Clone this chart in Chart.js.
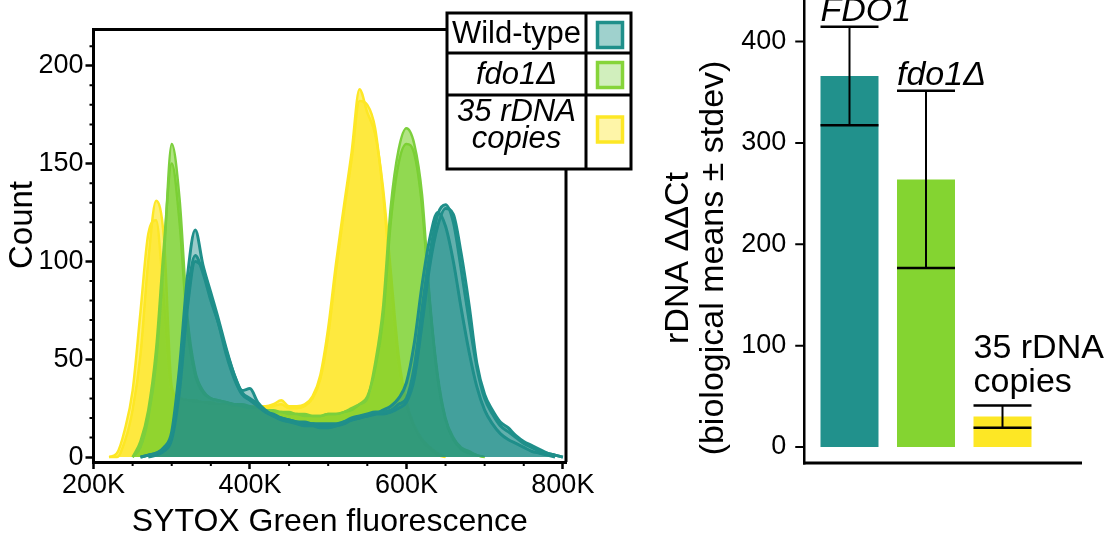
<!DOCTYPE html>
<html><head><meta charset="utf-8">
<script src="https://cdn.jsdelivr.net/npm/chart.js@4.4.1/dist/chart.umd.min.js"></script>
<style>
html,body{margin:0;padding:0;background:#fff;width:1112px;height:537px;overflow:hidden;}
#c1{position:absolute;left:0;top:0;}
#c2{position:absolute;left:640px;top:0;}
</style></head><body>
<canvas id="c1" width="640" height="537"></canvas>
<canvas id="c2" width="472" height="537"></canvas>
<script>
const FONT = '"Liberation Sans", Arial, Helvetica, sans-serif';

// ---------- Left panel: SYTOX histograms ----------
const fluorescenceBins = [220000,230000,240000,250000,260000,270000,280000,290000,300000,310000,
  320000,330000,340000,350000,360000,370000,380000,390000,400000,410000,
  420000,430000,440000,450000,460000,470000,480000,490000,500000,510000,
  520000,530000,540000,550000,560000,570000,580000,590000,600000,610000,
  620000,630000,640000,650000,660000,670000,680000,690000,700000,710000,
  720000,730000,740000,750000,760000,770000,780000,790000,800000];

const wildTypeRep1 = [null,null,null,null,0,1,2,5,13,46, 92,116,98,84,70,55,42,34,35,28, 24,21,19,18,17,16,16,15,15,16, 18,20,21,22,23,23,24,27,30,46, 76,104,124,129,120,96,70,46,30,22, 16,13,10,7,5,3,2,1,0];
const wildTypeRep2 = [null,null,null,null,0,1,2,4,11,40, 82,103,94,80,68,54,42,33,30,27, 23,21,20,19,18,17,17,16,16,16, 17,19,20,21,22,22,23,25,28,40, 68,98,118,127,124,104,78,48,32,24, 18,15,11,8,6,4,2,1,0];
const wildTypeRep3 = [null,null,null,null,null,0,1,3,9,34, 76,100,96,82,68,52,40,32,29,26, 23,22,20,19,18,18,17,17,17,17, 18,19,20,21,22,24,26,30,38,58, 88,112,125,118,100,76,54,36,24,17, 12,9,7,5,3,2,1,0,null];
const fdo1Rep1 = [null,null,null,0,5,20,48,102,160,132, 72,44,34,30,29,28,27,26,25,25, 24,23,23,22,22,21,21,21,22,22, 23,25,27,30,48,76,128,157,168,160, 134,80,42,20,10,5,3,1,0,null, null,null,null,null,null,null,null,null,null];
const fdo1Rep2 = [null,null,null,0,8,24,55,108,150,120, 66,42,33,30,29,28,27,27,26,25, 24,24,23,23,22,22,21,21,22,22, 23,24,27,31,45,70,120,150,160,155, 128,78,40,19,9,4,2,1,0,null, null,null,null,null,null,null,null,null,null];
const rDNA35Rep1 = [0,0,8,24,52,100,131,112,36,30, 29,28,28,27,27,27,26,26,26,26, 26,27,29,26,26,27,31,42,66,99, 128,156,188,176,165,138,95,52,28,16, 9,5,2,0,null,null,null,null,null,null, null,null,null,null,null,null,null,null,null];
const rDNA35Rep2 = [0,2,14,34,74,114,121,80,34,30, 29,29,28,28,27,27,27,26,26,25, 25,26,27,25,25,26,30,40,62,95, 125,152,182,180,168,135,90,48,26,15, 8,4,1,0,null,null,null,null,null,null, null,null,null,null,null,null,null,null,null];

const xTickValues = [200000,400000,600000,800000];
const xTickLabels = ['200K','400K','600K','800K'];
const yTickValues = [0,50,100,150,200];
const legendEntries = [['Wild-type'],['fdo1\u0394'],['35 rDNA','copies']];

const TEAL = {line:'#1f8f8a', fill:'rgba(31,143,138,0.45)', width:3, swBorder:'#1f8f8a', swFill:'#9fd1cd'};
const GREEN = {line:'#7ccf3c', fill:'rgba(122,208,45,0.58)', width:2.5, swBorder:'#86d43a', swFill:'#d1efbd'};
const YELLOW = {line:'#fde725', fill:'rgba(253,231,37,0.65)', width:2.5, swBorder:'#fde725', swFill:'#fef5a8'};

const histSeries = [
  {label:'Wild-type', values:wildTypeRep1, st:TEAL},
  {label:'Wild-type', values:wildTypeRep2, st:TEAL},
  {label:'Wild-type', values:wildTypeRep3, st:TEAL},
  {label:'fdo1\u0394', values:fdo1Rep1, st:GREEN},
  {label:'fdo1\u0394', values:fdo1Rep2, st:GREEN},
  {label:'35 rDNA copies', values:rDNA35Rep1, st:YELLOW},
  {label:'35 rDNA copies', values:rDNA35Rep2, st:YELLOW}
];
const legendStyles = [TEAL, GREEN, YELLOW];
const legendItalic = [false, true, true];

function zeroPad(s){ s.paddingTop = 0; s.paddingBottom = 0; s.paddingLeft = 0; s.paddingRight = 0; }

const histFrame = {
  id:'histFrame',
  afterDraw(chart){
    const {ctx, chartArea:a, scales:{x, y}} = chart;
    ctx.save();
    ctx.strokeStyle = '#000';
    ctx.lineWidth = 3;
    ctx.beginPath();
    ctx.moveTo(a.left-1.5, a.top); ctx.lineTo(a.right+1.5, a.top);
    ctx.moveTo(a.right, a.top); ctx.lineTo(a.right, a.bottom);
    ctx.stroke();
    // minor ticks
    ctx.lineWidth = 2;
    ctx.beginPath();
    for (let v = 10; v <= 210; v += 10) {
      if (v % 50 === 0) continue;
      const py = y.getPixelForValue(v);
      ctx.moveTo(a.left-4, py); ctx.lineTo(a.left, py);
    }
    for (let v = 250000; v < 800000; v += 50000) {
      if (v % 200000 === 0) continue;
      const px = x.getPixelForValue(v);
      ctx.moveTo(px, a.bottom); ctx.lineTo(px, a.bottom+4);
    }
    ctx.stroke();

    // legend table
    const L = {x0:447, x1:631, xd:586, rows:[13,53,95,169]};
    ctx.fillStyle = '#fff';
    ctx.fillRect(L.x0, L.rows[0], L.x1-L.x0, L.rows[3]-L.rows[0]);
    ctx.lineWidth = 3;
    ctx.strokeStyle = '#000';
    ctx.strokeRect(L.x0, L.rows[0], L.x1-L.x0, L.rows[3]-L.rows[0]);
    ctx.beginPath();
    ctx.moveTo(L.xd, L.rows[0]); ctx.lineTo(L.xd, L.rows[3]);
    ctx.moveTo(L.x0, L.rows[1]); ctx.lineTo(L.x1, L.rows[1]);
    ctx.moveTo(L.x0, L.rows[2]); ctx.lineTo(L.x1, L.rows[2]);
    ctx.stroke();
    const baselines = [[43],[84],[121,148]];
    const swTops = [21,61,115.5];
    ctx.textAlign = 'center';
    ctx.textBaseline = 'alphabetic';
    ctx.fillStyle = '#000';
    legendEntries.forEach((lines, i) => {
      ctx.font = (legendItalic[i] ? 'italic ' : '') + '31px ' + FONT;
      lines.forEach((t, k) => ctx.fillText(t, (L.x0+L.xd)/2, baselines[i][k]));
      const st = legendStyles[i];
      ctx.fillStyle = st.swFill;
      ctx.fillRect(597.5, swTops[i]+1.5, 25, 25);
      ctx.strokeStyle = st.swBorder;
      ctx.lineWidth = 3.5;
      ctx.strokeRect(597.5, swTops[i]+1.5, 25, 25);
      ctx.fillStyle = '#000';
    });

    // axis titles
    ctx.fillStyle = '#000';
    ctx.font = '32px ' + FONT;
    ctx.textAlign = 'center';
    ctx.textBaseline = 'middle';
    ctx.fillText('SYTOX Green fluorescence', (a.left+a.right)/2, 522);
    ctx.save();
    ctx.translate(23, 225);
    ctx.rotate(-Math.PI/2);
    ctx.font = '33px ' + FONT;
    ctx.fillText('Count', 0, 0);
    ctx.restore();
    ctx.restore();
  }
};

new Chart(document.getElementById('c1'), {
  type:'line',
  data:{
    datasets: histSeries.map(s => ({
      label:s.label,
      data: fluorescenceBins.map((xv, i) => ({x:xv, y:s.values[i]})),
      borderColor:s.st.line,
      backgroundColor:s.st.fill,
      borderWidth:s.st.width,
      fill:'origin',
      pointRadius:0,
      cubicInterpolationMode:'monotone',
      spanGaps:false
    }))
  },
  options:{
    responsive:false,
    animation:false,
    layout:{padding:{top:29.5, right:74, left:0, bottom:0}, autoPadding:false},
    plugins:{legend:{display:false}, tooltip:{enabled:false}},
    scales:{
      x:{
        type:'linear', min:200000, max:804000,
        afterBuildTicks: s => { s.ticks = xTickValues.map(v => ({value:v})); },
        afterFit: s => { s.height = 75; zeroPad(s); },
        grid:{display:true, drawOnChartArea:false, drawTicks:true, tickLength:7, tickWidth:2.5, tickColor:'#000'},
        border:{display:true, color:'#000', width:3},
        ticks:{font:{family:FONT, size:27}, color:'#000', padding:0, maxRotation:0, autoSkip:false,
               callback:(v, i) => xTickLabels[i]}
      },
      y:{
        type:'linear', min:-2.5, max:218.5,
        afterBuildTicks: s => { s.ticks = yTickValues.map(v => ({value:v})); },
        afterFit: s => { s.width = 93.5; zeroPad(s); },
        grid:{display:true, drawOnChartArea:false, drawTicks:true, tickLength:8, tickWidth:2.5, tickColor:'#000'},
        border:{display:true, color:'#000', width:3},
        ticks:{font:{family:FONT, size:27}, color:'#000', padding:2, autoSkip:false}
      }
    }
  },
  plugins:[histFrame]
});

// ---------- Right panel: rDNA ddCt bars ----------
const barCategories = ['FDO1', 'fdo1\u0394', '35 rDNA copies'];
const barMeans = [366, 264, 30];
const barSD = [48.5, 87.5, 11];
const barTickValues = [0, 100, 200, 300, 400];
const barLabelLines = [['FDO1'], ['fdo1\u0394'], ['35 rDNA', 'copies']];
const barLabelItalic = [true, true, false];
const barColors = ['#21918c', '#84d431', '#fde725'];

const barExtras = {
  id:'barExtras',
  afterDraw(chart){
    const {ctx, chartArea:a, scales:{y}} = chart;
    const meta = chart.getDatasetMeta(0);
    ctx.save();
    ctx.strokeStyle = '#000';
    const axX = a.left - 7;
    ctx.lineWidth = 2.5;
    ctx.beginPath(); ctx.moveTo(axX, 0); ctx.lineTo(axX, a.bottom+1.5); ctx.stroke();
    ctx.lineWidth = 3;
    ctx.beginPath(); ctx.moveTo(axX-1.25, a.bottom); ctx.lineTo(a.right+41.25, a.bottom); ctx.stroke();
    ctx.lineWidth = 2;
    ctx.beginPath();
    barTickValues.forEach(v => { const py = y.getPixelForValue(v); ctx.moveTo(axX-9, py); ctx.lineTo(axX, py); });
    ctx.stroke();

    // error bars
    meta.data.forEach((bar, i) => {
      const hi = y.getPixelForValue(barMeans[i] + barSD[i]);
      const lo = y.getPixelForValue(barMeans[i] - barSD[i]);
      const half = bar.width / 2;
      ctx.lineWidth = 2;
      ctx.beginPath(); ctx.moveTo(bar.x, hi); ctx.lineTo(bar.x, lo); ctx.stroke();
      ctx.lineWidth = 2.5;
      ctx.beginPath();
      ctx.moveTo(bar.x-half, hi); ctx.lineTo(bar.x+half, hi);
      ctx.moveTo(bar.x-half, lo); ctx.lineTo(bar.x+half, lo);
      ctx.stroke();
    });

    // labels above error bars
    ctx.fillStyle = '#000';
    ctx.textAlign = 'left';
    ctx.textBaseline = 'alphabetic';
    meta.data.forEach((bar, i) => {
      const lines = barLabelLines[i];
      ctx.font = (barLabelItalic[i] ? 'italic ' : '') + '34px ' + FONT;
      const hi = y.getPixelForValue(barMeans[i] + barSD[i]);
      const desc = Math.max(0, ctx.measureText(lines[lines.length-1]).actualBoundingBoxDescent);
      let base = hi - 6 - desc;
      for (let k = lines.length-1; k >= 0; k--) {
        ctx.fillText(lines[k], bar.x - bar.width/2, base);
        base -= 34;
      }
    });

    // y title
    ctx.save();
    ctx.translate(0, 258);
    ctx.rotate(-Math.PI/2);
    ctx.textAlign = 'center';
    ctx.textBaseline = 'middle';
    ctx.font = '34px ' + FONT;
    ctx.fillText('rDNA \u0394\u0394Ct', 0, 39);
    ctx.fillText('(biological means \u00b1 stdev)', 0, 74);
    ctx.restore();
    ctx.restore();
  }
};

new Chart(document.getElementById('c2'), {
  type:'bar',
  data:{
    labels: barCategories,
    datasets:[{data:barMeans, backgroundColor:barColors, borderWidth:0, barPercentage:0.758, categoryPercentage:1}]
  },
  options:{
    responsive:false,
    animation:false,
    layout:{padding:{top:0, right:71.25, left:0, bottom:0}, autoPadding:false},
    plugins:{legend:{display:false}, tooltip:{enabled:false}},
    scales:{
      x:{
        ticks:{display:false},
        grid:{display:false, drawTicks:false},
        border:{display:false},
        afterFit: s => { s.height = 74; zeroPad(s); }
      },
      y:{
        min:-15.8, max:441,
        afterBuildTicks: s => { s.ticks = barTickValues.map(v => ({value:v})); },
        afterFit: s => { s.width = 171.25; zeroPad(s); },
        grid:{display:false, drawTicks:false},
        border:{display:false},
        ticks:{font:{family:FONT, size:27}, color:'#000', padding:25, autoSkip:false}
      }
    }
  },
  plugins:[barExtras]
});
</script>
</body></html>
